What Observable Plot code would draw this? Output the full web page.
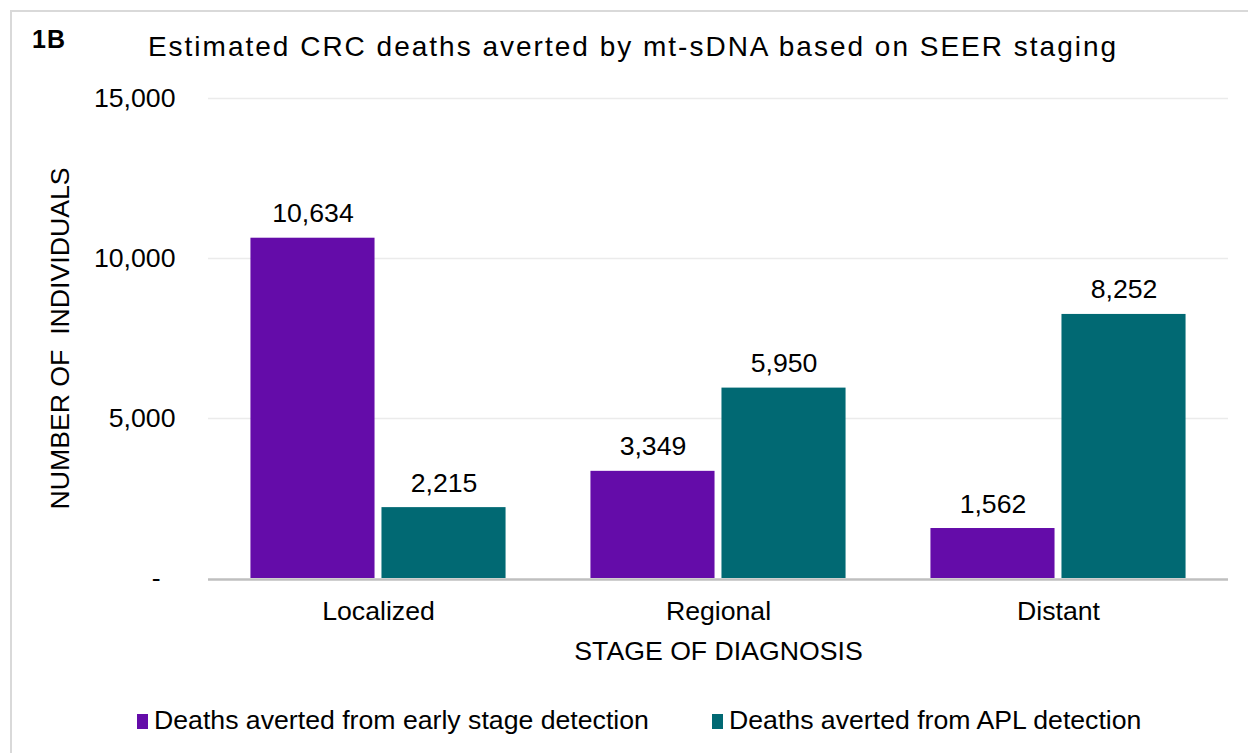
<!DOCTYPE html>
<html><head><meta charset="utf-8">
<script src="https://cdn.jsdelivr.net/npm/d3@7"></script>
<script src="https://cdn.jsdelivr.net/npm/@observablehq/plot@0.6"></script>
<style>
html,body{margin:0;padding:0;background:#fff;}
#wrap{position:relative;width:1248px;height:753px;overflow:hidden;font-family:"Liberation Sans",Arial,sans-serif;color:#000;background:#fff;}
#frame{position:absolute;left:10px;top:10px;width:1300px;height:800px;border:2px solid #d9d9d9;box-sizing:border-box;pointer-events:none;}
#head{position:relative;height:80px;}
#tag{position:absolute;left:32px;top:25px;font-weight:bold;font-size:25px;line-height:28px;letter-spacing:1px;}
#title{position:absolute;left:0;top:31px;width:1266px;text-align:center;font-size:28px;line-height:32px;letter-spacing:2px;white-space:nowrap;}
#chart{position:relative;height:610px;}
#chart svg{display:block;}
#legend{position:relative;height:63px;font-size:26.67px;line-height:30px;}
.item{position:absolute;top:15px;white-space:nowrap;}
.sw{display:inline-block;width:11px;height:15px;margin-right:6px;vertical-align:baseline;}
</style>
</head>
<body>
<div id="wrap">
  <div id="head">
    <div id="tag">1B</div>
    <div id="title"></div>
  </div>
  <div id="chart"></div>
  <div id="legend"></div>
  <div id="frame"></div>
</div>
<script>
const titleText = "Estimated CRC deaths averted by mt-sDNA based on SEER staging";
const stages = ["Localized", "Regional", "Distant"];
const seriesNames = ["Deaths averted from early stage detection", "Deaths averted from APL detection"];
const earlyStage = [10634, 3349, 1562];
const aplDetection = [2215, 5950, 8252];
const yTicks = [0, 5000, 10000, 15000];
const colors = ["#640CA9", "#016973"];
const xLabel = "STAGE OF DIAGNOSIS";
const yLabel = "NUMBER OF\u00a0 INDIVIDUALS";

document.getElementById("title").textContent = titleText;

const rows = stages.flatMap((s, i) => [
  {stage: s, series: seriesNames[0], value: earlyStage[i]},
  {stage: s, series: seriesNames[1], value: aplDetection[i]}
]);

const fmt = d3.format(",");

const chart = Plot.plot({
  width: 1248,
  height: 610,
  marginLeft: 207,
  marginRight: 19,
  marginTop: 18,
  marginBottom: 112,
  style: {fontFamily: '"Liberation Sans", Arial, sans-serif', fontSize: "26.67px", color: "#000", background: "#fff", overflow: "visible"},
  fx: {domain: stages, padding: 0, label: xLabel, tickSize: 0, tickPadding: 23, labelAnchor: "center", labelOffset: 81, axis: "bottom"},
  x: {domain: seriesNames, axis: null, paddingInner: 0.053, paddingOuter: 0.324, round: false},
  y: {domain: [0, 15000], ticks: yTicks, tickFormat: d => d === 0 ? "-\u2007" : fmt(d), tickSize: 0, tickPadding: 33, label: yLabel, labelAnchor: "center", labelOffset: 158, labelArrow: "none"},
  color: {domain: seriesNames, range: colors},
  marks: [
    Plot.ruleY(yTicks.slice(1), {stroke: "#ebebeb", strokeWidth: 1.5}),
    Plot.barY(rows, {fx: "stage", x: "series", y: "value", fill: "series"}),
    Plot.ruleY([0], {stroke: "#bfbfbf", strokeWidth: 2.5, dy: 1}),
    Plot.text(rows, {fx: "stage", x: "series", y: "value", text: d => fmt(d.value), dy: -16, lineAnchor: "bottom", fill: "#000", fontSize: 26.67})
  ]
});
document.getElementById("chart").appendChild(chart);

const legend = document.getElementById("legend");
const legendX = [137, 712];
seriesNames.forEach((name, i) => {
  const item = document.createElement("div");
  item.className = "item";
  item.style.left = legendX[i] + "px";
  const sw = document.createElement("span");
  sw.className = "sw";
  sw.style.background = colors[i];
  item.appendChild(sw);
  item.appendChild(document.createTextNode(name));
  legend.appendChild(item);
});
</script>
</body></html>
